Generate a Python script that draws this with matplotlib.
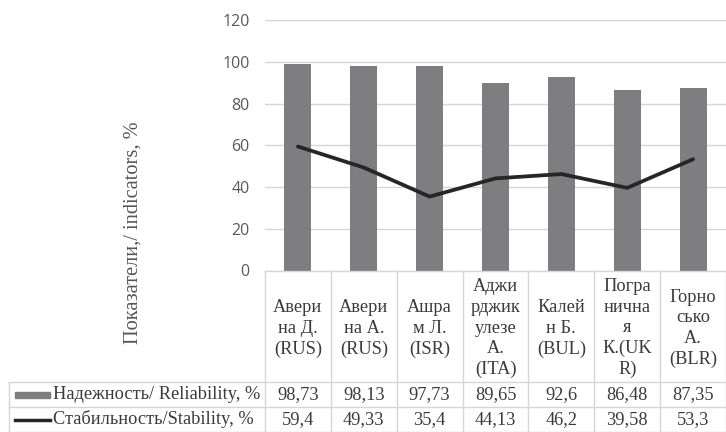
import matplotlib
matplotlib.use("Agg")
import matplotlib.pyplot as plt
from matplotlib.transforms import blended_transform_factory
from matplotlib.lines import Line2D
from matplotlib.patches import Rectangle

categories = [
    "Авери\nна Д.\n(RUS)",
    "Авери\nна А.\n(RUS)",
    "Ашра\nм Л.\n(ISR)",
    "Аджи\nрджик\nулезе\nА.\n(ITA)",
    "Калей\nн Б.\n(BUL)",
    "Погра\nнична\nя\nК.(UK\nR)",
    "Горно\nсько\nА.\n(BLR)",
]
reliability = [98.73, 98.13, 97.73, 89.65, 92.6, 86.48, 87.35]
stability = [59.4, 49.33, 35.4, 44.13, 46.2, 39.58, 53.3]
reliability_labels = ["98,73", "98,13", "97,73", "89,65", "92,6", "86,48", "87,35"]
stability_labels = ["59,4", "49,33", "35,4", "44,13", "46,2", "39,58", "53,3"]
series_names = ["Надежность/ Reliability, %", "Стабильность/Stability, %"]
y_ticks = [0, 20, 40, 60, 80, 100, 120]

W, H = 726, 432
BAR_COLOR = "#7e7e81"
LINE_COLOR = "#262626"
GRID_COLOR = "#d6d6d6"
TEXT_COLOR = "#3a3a3a"
SERIF = "Liberation Serif"
TABLE_FS = 13.2

fig = plt.figure(figsize=(W / 100, H / 100), dpi=100)

# plot area in pixel terms
x0, x1 = 265, 726
y_top, y_zero = 20, 270.5
ax = fig.add_axes([x0 / W, 1 - y_zero / H, (x1 - x0) / W, (y_zero - y_top) / H])

n = len(categories)
xs = list(range(n))
ax.bar(xs, reliability, width=0.41, color=BAR_COLOR, zorder=2)
ax.plot(xs, stability, color=LINE_COLOR, lw=2.7, solid_capstyle="round",
        solid_joinstyle="round", zorder=3)

ax.set_xlim(-0.5, n - 0.5)
ax.set_ylim(0, 120)
ax.set_yticks(y_ticks)
ax.set_xticks([])
ax.yaxis.grid(True, color=GRID_COLOR, lw=1.0, zorder=0)
ax.set_axisbelow(True)
for s in ["top", "right", "left"]:
    ax.spines[s].set_visible(False)
ax.spines["bottom"].set_color(GRID_COLOR)
ax.spines["bottom"].set_linewidth(1.0)
ax.tick_params(axis="y", length=0, pad=11, labelsize=11.5, labelcolor="#595959")
for lab in ax.get_yticklabels():
    lab.set_fontfamily("Open Sans")

# y-axis title
fig.text(133 / W, 1 - 233 / H, "Показатели,/ indicators, %", rotation=90,
         ha="center", va="center", fontsize=14.7, family=SERIF, color="#555555")

# data table below the plot
bt = blended_transform_factory(ax.transData, fig.transFigure)


def fy(py):
    return 1 - py / H


header_bottom, row1_bottom, row2_bottom = 382, 407, 432
table_left_px = 9

# vertical column borders
for i in range(n + 1):
    xd = i - 0.5
    fig.add_artist(Line2D([xd, xd], [fy(y_zero), fy(row2_bottom)], transform=bt,
                          color=GRID_COLOR, lw=1.0, clip_on=False))
# left border of the legend column
fig.add_artist(Line2D([table_left_px / W, table_left_px / W],
                      [fy(header_bottom), fy(row2_bottom)],
                      transform=fig.transFigure, color=GRID_COLOR, lw=1.0))
# horizontal row borders
for py in [header_bottom, row1_bottom, row2_bottom - 0.5]:
    fig.add_artist(Line2D([table_left_px / W, 1], [fy(py), fy(py)],
                          transform=fig.transFigure, color=GRID_COLOR, lw=1.0))

# header cells
for i, cat in enumerate(categories):
    fig.text(i, fy((y_zero + header_bottom) / 2 + 2), cat, transform=bt,
             ha="center", va="center", fontsize=TABLE_FS, family=SERIF,
             color=TEXT_COLOR, linespacing=1.28, multialignment="center")

# value rows
r1c = (header_bottom + row1_bottom) / 2
r2c = (row1_bottom + row2_bottom) / 2
for i in range(n):
    fig.text(i, fy(r1c), reliability_labels[i], transform=bt, ha="center",
             va="center", fontsize=TABLE_FS, family=SERIF, color=TEXT_COLOR)
    fig.text(i, fy(r2c), stability_labels[i], transform=bt, ha="center",
             va="center", fontsize=TABLE_FS, family=SERIF, color=TEXT_COLOR)

# row legends
fig.add_artist(Rectangle((15 / W, fy(r1c + 3)), 35 / W, 6 / H,
                         transform=fig.transFigure, color=BAR_COLOR))
fig.add_artist(Line2D([15 / W, 50 / W], [fy(r2c), fy(r2c)],
                      transform=fig.transFigure, color=LINE_COLOR, lw=2.5))
fig.text(53 / W, fy(r1c), series_names[0], ha="left", va="center",
         fontsize=TABLE_FS, family=SERIF, color=TEXT_COLOR)
fig.text(53 / W, fy(r2c), series_names[1], ha="left", va="center",
         fontsize=TABLE_FS, family=SERIF, color=TEXT_COLOR)

fig.savefig("out.png", dpi=100, facecolor="white")
